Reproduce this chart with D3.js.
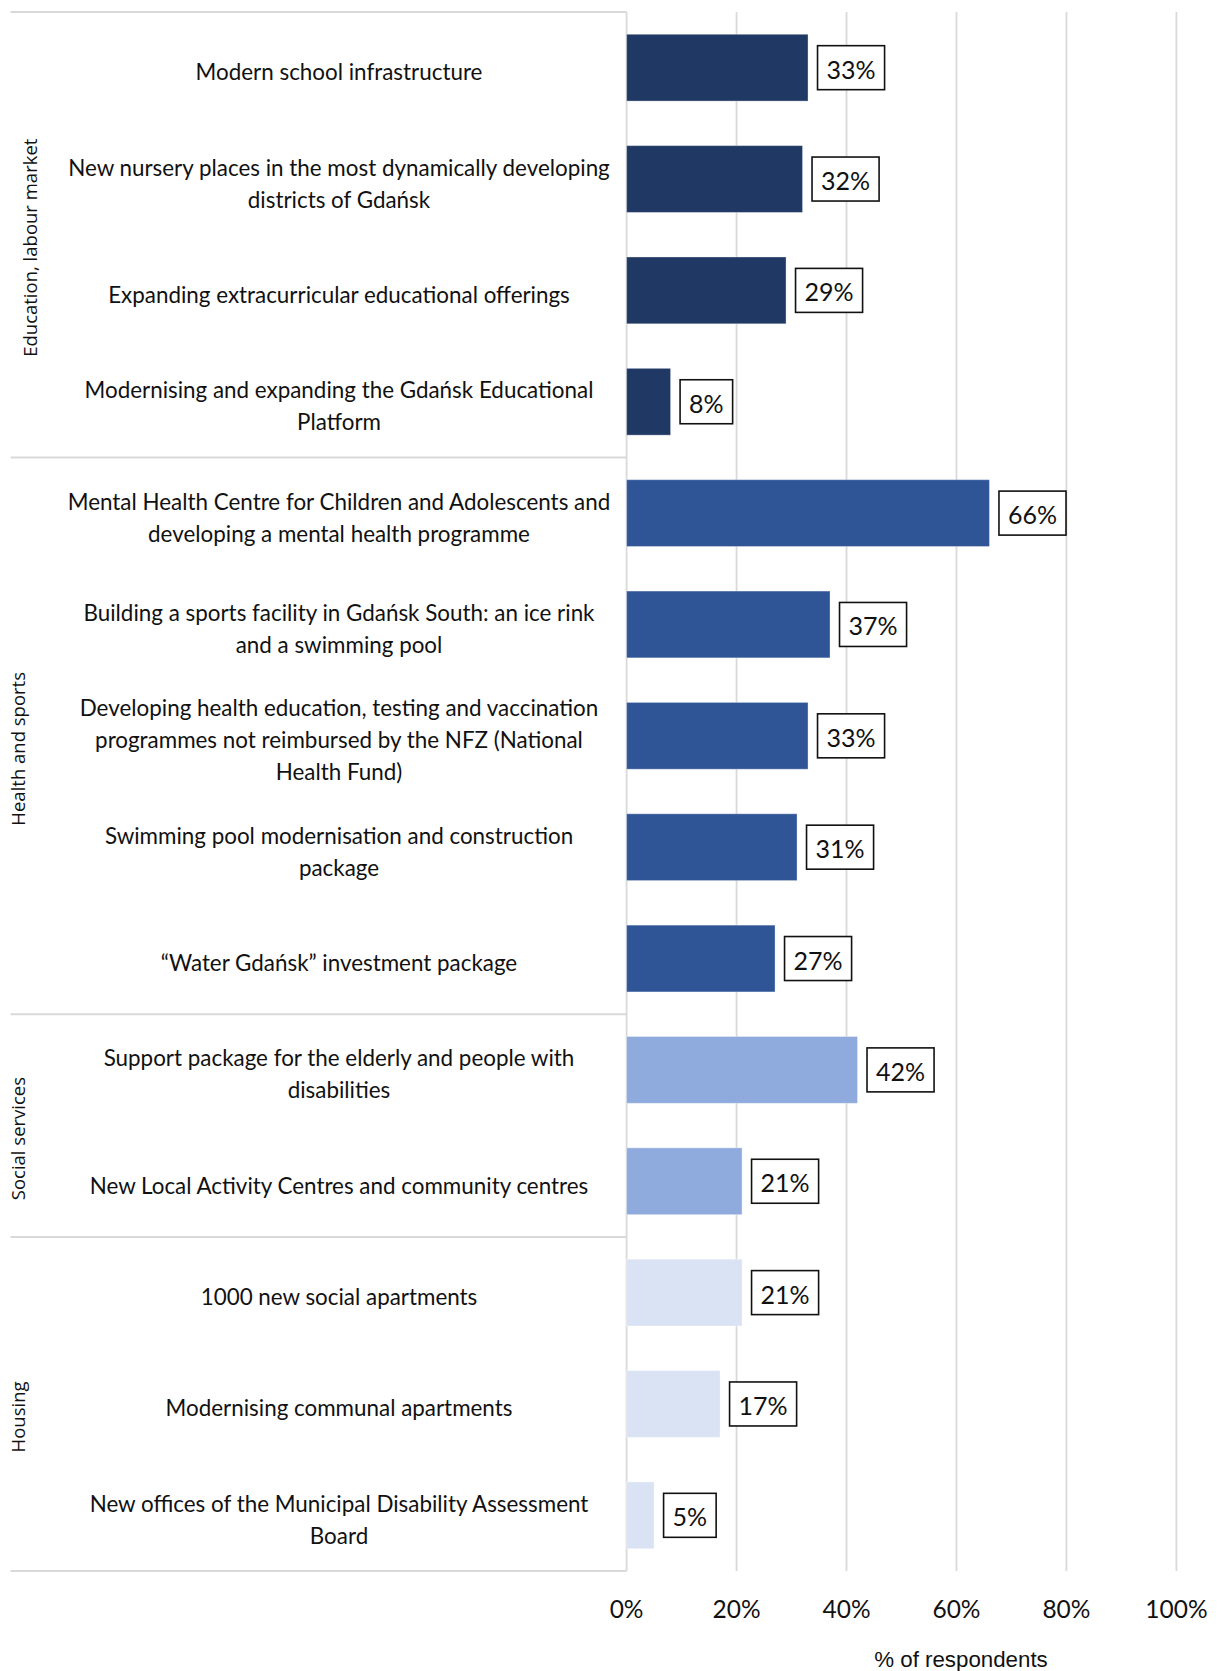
<!DOCTYPE html>
<html>
<head>
<meta charset="utf-8">
<script src="https://cdn.jsdelivr.net/npm/d3@7"></script>
<style>
  html, body { margin: 0; padding: 0; background: #fff; }
  svg { display: block; }
</style>
</head>
<body>
<svg id="chart" width="1218" height="1671"></svg>
<script>
// Priority investments, grouped by thematic area
const groups = ["Education, labour market", "Health and sports", "Social services", "Housing"];
const groupColors = ["#203864", "#2F5597", "#8FAADC", "#DAE3F3"];

const labels = [
  ["Modern school infrastructure"],
  ["New nursery places in the most dynamically developing", "districts of Gdańsk"],
  ["Expanding extracurricular educational offerings"],
  ["Modernising and expanding the Gdańsk Educational", "Platform"],
  ["Mental Health Centre for Children and Adolescents and", "developing a mental health programme"],
  ["Building a sports facility in Gdańsk South: an ice rink", "and a swimming pool"],
  ["Developing health education, testing and vaccination", "programmes not reimbursed by the NFZ (National", "Health Fund)"],
  ["Swimming pool modernisation and construction", "package"],
  ["“Water Gdańsk” investment package"],
  ["Support package for the elderly and people with", "disabilities"],
  ["New Local Activity Centres and community centres"],
  ["1000 new social apartments"],
  ["Modernising communal apartments"],
  ["New offices of the Municipal Disability Assessment", "Board"]
];
const groupOf = [0, 0, 0, 0, 1, 1, 1, 1, 1, 2, 2, 3, 3, 3];
const values = [33, 32, 29, 8, 66, 37, 33, 31, 27, 42, 21, 21, 17, 5];
const ticks = [0, 20, 40, 60, 80, 100];
const axisTitle = "% of respondents";

// Layout
const plotTop = 12, plotBottom = 1571;
const x0 = 626.6, x1 = 1176.4;
const tableLeft = 10.5;
const labelCenterX = 339;

const svg = d3.select("#chart");

const x = d3.scaleLinear().domain([0, 100]).range([x0, x1]);
const y = d3.scaleBand()
  .domain(d3.range(values.length))
  .range([plotTop, plotBottom])
  .paddingInner(0.4)
  .paddingOuter(0.2);

const gridColor = "#d9d9d9";

// Vertical gridlines (including the 0% baseline)
svg.append("g")
  .selectAll("line")
  .data(ticks)
  .join("line")
  .attr("x1", d => x(d)).attr("x2", d => x(d))
  .attr("y1", plotTop).attr("y2", plotBottom)
  .attr("stroke", gridColor)
  .attr("stroke-width", 1.8);

// Horizontal separators between groups in the label table
const step = y.step();
const bandStart = i => plotTop + i * step;
const boundaries = [0];
groupOf.forEach((g, i) => { if (i > 0 && g !== groupOf[i - 1]) boundaries.push(i); });
boundaries.push(values.length);

svg.append("g")
  .selectAll("line")
  .data(boundaries)
  .join("line")
  .attr("x1", tableLeft).attr("x2", x0)
  .attr("y1", d => bandStart(d)).attr("y2", d => bandStart(d))
  .attr("stroke", gridColor)
  .attr("stroke-width", 2);

// Bars
svg.append("g")
  .selectAll("rect")
  .data(values)
  .join("rect")
  .attr("x", x(0))
  .attr("y", (d, i) => y(i))
  .attr("width", d => x(d) - x(0))
  .attr("height", y.bandwidth())
  .attr("fill", (d, i) => groupColors[groupOf[i]])
  .attr("stroke", "rgba(255,255,255,0.35)")
  .attr("stroke-width", 1);

// Boxed value labels
const valG = svg.append("g")
  .selectAll("g")
  .data(values)
  .join("g")
  .attr("transform", (d, i) => `translate(${x(d) + 9.5},${y(i) + y.bandwidth() / 2})`);

valG.each(function (d) {
  const g = d3.select(this);
  const t = g.append("text")
    .attr("font-family", "Lato, 'Open Sans', sans-serif")
    .attr("font-size", 25)
    .attr("fill", "#111")
    .attr("dominant-baseline", "central")
    .text(d + "%");
  const w = t.node().getComputedTextLength();
  const padX = 9;
  g.insert("rect", "text")
    .attr("x", 0).attr("y", -22)
    .attr("width", w + padX * 2).attr("height", 44)
    .attr("fill", "#fff")
    .attr("stroke", "#111")
    .attr("stroke-width", 1.6);
  t.attr("x", padX).attr("y", 1);
});

// Category labels
const lineH = 32;
svg.append("g")
  .selectAll("text")
  .data(labels)
  .join("text")
  .attr("font-family", "Lato, 'Open Sans', sans-serif")
  .attr("font-size", 22.4)
  .attr("fill", "#111")
  .attr("text-anchor", "middle")
  .each(function (lines, i) {
    const cy = y(i) + y.bandwidth() / 2 + 4;
    const startY = cy - (lines.length - 1) * lineH / 2;
    d3.select(this).selectAll("tspan")
      .data(lines)
      .join("tspan")
      .attr("x", labelCenterX)
      .attr("y", (l, k) => startY + k * lineH)
      .attr("dominant-baseline", "central")
      .text(l => l);
  });

// Rotated group titles
const groupSpans = groups.map((name, gi) => {
  const idx = groupOf.map((g, i) => g === gi ? i : -1).filter(i => i >= 0);
  return { name, start: bandStart(idx[0]), end: bandStart(idx[idx.length - 1] + 1), first: gi === 0 };
});
svg.append("g")
  .selectAll("text")
  .data(groupSpans)
  .join("text")
  .attr("font-family", "'Open Sans', 'Noto Sans', sans-serif")
  .attr("font-size", 18.5)
  .attr("fill", "#111")
  .attr("text-anchor", "middle")
  .attr("dominant-baseline", "central")
  .attr("transform", d => `translate(${d.first ? 29 : 17},${(d.start + d.end) / 2 + 13}) rotate(-90)`)
  .text(d => d.name);

// Percentage tick labels
svg.append("g")
  .selectAll("text")
  .data(ticks)
  .join("text")
  .attr("x", d => x(d))
  .attr("y", 1608)
  .attr("font-family", "Lato, 'Open Sans', sans-serif")
  .attr("font-size", 24.5)
  .attr("fill", "#111")
  .attr("text-anchor", "middle")
  .attr("dominant-baseline", "central")
  .text(d => d + "%");

// Axis title
svg.append("text")
  .attr("x", 961)
  .attr("y", 1659)
  .attr("font-family", "'Liberation Sans', Arial, sans-serif")
  .attr("font-size", 22.3)
  .attr("fill", "#111")
  .attr("text-anchor", "middle")
  .attr("dominant-baseline", "central")
  .text(axisTitle);
</script>
</body>
</html>
